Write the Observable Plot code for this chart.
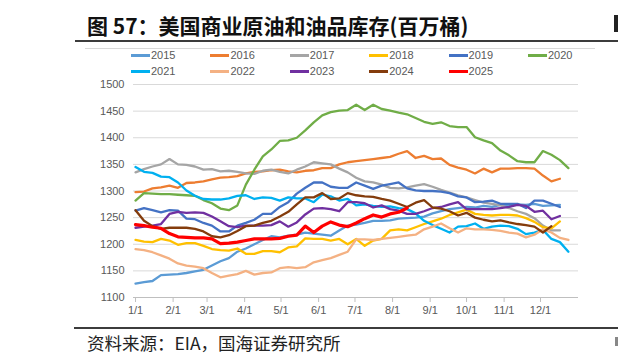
<!DOCTYPE html>
<html><head><meta charset="utf-8">
<script src="https://cdn.jsdelivr.net/npm/d3@7"></script>
<script src="https://cdn.jsdelivr.net/npm/@observablehq/plot@0.6"></script>
<style>
body{margin:0;background:#fff;width:618px;height:363px;overflow:hidden;position:relative;font-family:"Liberation Sans",Arial,sans-serif}
.abs{position:absolute}
#title{left:87px;top:11px;font-family:"Noto Sans CJK SC";font-weight:bold;font-size:21px;line-height:28px;color:#111;white-space:nowrap}
#edge1{left:614px;top:15px;width:4px;height:17px;background:#222}
#hline{left:75px;right:0;top:40px;height:2px;background:#3c3c3c}
#gline{left:85px;width:510px;top:48px;height:1px;background:#d9d9d9}
#fline{left:74px;right:0;top:327px;height:2px;background:#3c3c3c}
#foot{left:87px;top:332px;font-family:"Noto Sans CJK SC";font-size:17.5px;line-height:22px;color:#222;white-space:nowrap}
#edge2{left:615px;top:337px;width:3px;height:9px;background:#888}
.sw{position:absolute;width:19px;height:3px}
.lb{position:absolute;font-size:11px;line-height:12px;color:#595959}
#chart{left:0;top:60px}
</style></head>
<body>
<div id="title" class="abs">图 57：美国商业原油和油品库存(百万桶)</div>
<div id="edge1" class="abs"></div>
<div id="hline" class="abs"></div>
<div id="gline" class="abs"></div>
<div id="legend" class="abs" style="left:0;top:0"></div>
<div id="chart" class="abs"></div>
<div id="fline" class="abs"></div>
<div id="foot" class="abs">资料来源：EIA，国海证券研究所</div>
<div id="edge2" class="abs"></div>
<script>
const years = ["2015","2016","2017","2018","2019","2020","2021","2022","2023","2024","2025"];
const colors = ["#5B9BD5","#ED7D31","#A5A5A5","#FFC000","#4472C4","#70AD47","#00B0F0","#F4B183","#7030A0","#843C0C","#FF0000"];
const monthLabels = ["1/1","2/1","3/1","4/1","5/1","6/1","7/1","8/1","9/1","10/1","11/1","12/1"];
const yTicks = [1100,1150,1200,1250,1300,1350,1400,1450,1500];

const y2015 = [1126,1129,1131,1142,1143,1144,1146,1149,1152,1160,1168,1174,1186,1192,1200,1208,1215,1213,1216,1218,1222,1220,1218,1216,1226,1235,1237,1240,1244,1244,1245,1248,1249,1250,1252,1258,1262,1266,1268,1270,1269,1272,1270,1274,1273,1275,1274,1276,1272,1273,1274];
const y2016 = [1298,1299,1305,1307,1310,1306,1315,1316,1318,1322,1325,1326,1328,1333,1336,1337,1339,1340,1337,1335,1338,1339,1343,1343,1350,1354,1356,1358,1360,1362,1364,1370,1375,1362,1366,1360,1361,1349,1344,1340,1333,1342,1335,1342,1342,1343,1343,1342,1329,1318,1323];
const y2017 = [1335,1341,1346,1350,1360,1350,1349,1346,1340,1341,1337,1338,1336,1333,1332,1338,1340,1336,1333,1340,1346,1354,1352,1350,1342,1335,1325,1318,1316,1312,1306,1305,1307,1310,1313,1308,1302,1297,1292,1288,1283,1278,1276,1273,1268,1262,1257,1249,1235,1226,1226];
const y2018 = [1208,1205,1204,1210,1207,1199,1202,1202,1197,1191,1189,1188,1192,1182,1182,1187,1187,1185,1194,1196,1211,1210,1210,1207,1210,1200,1210,1197,1207,1210,1226,1228,1226,1232,1238,1243,1248,1255,1260,1265,1257,1255,1254,1255,1255,1254,1249,1242,1232,1230,1243];
const y2019 = [1263,1268,1264,1260,1264,1263,1248,1247,1240,1235,1224,1224,1235,1240,1246,1257,1257,1270,1279,1295,1306,1316,1316,1308,1306,1306,1316,1310,1304,1310,1313,1316,1305,1301,1300,1300,1299,1296,1290,1288,1279,1280,1282,1276,1276,1276,1268,1282,1282,1276,1270];
const y2020 = [1282,1296,1295,1294,1294,1293,1292,1291,1283,1277,1267,1264,1273,1312,1340,1365,1378,1394,1395,1400,1414,1429,1442,1448,1451,1452,1462,1452,1462,1454,1451,1447,1444,1437,1430,1426,1429,1422,1420,1420,1401,1395,1390,1376,1367,1356,1354,1354,1375,1368,1358,1343];
const y2021 = [1345,1336,1334,1327,1326,1316,1301,1291,1285,1284,1284,1286,1291,1292,1285,1288,1287,1282,1288,1286,1286,1279,1293,1290,1282,1285,1273,1275,1272,1270,1271,1268,1266,1258,1244,1236,1229,1222,1233,1234,1239,1229,1233,1235,1234,1229,1219,1222,1227,1210,1204,1186];
const y2022 = [1191,1189,1185,1179,1173,1164,1160,1158,1155,1146,1138,1141,1144,1150,1143,1146,1147,1155,1157,1155,1157,1166,1170,1174,1180,1186,1209,1209,1208,1210,1212,1214,1216,1218,1228,1233,1239,1230,1222,1230,1228,1228,1227,1225,1222,1220,1213,1218,1228,1222,1212,1208];
const y2023 = [1231,1233,1235,1238,1257,1261,1259,1260,1259,1252,1243,1234,1232,1235,1235,1235,1236,1243,1233,1241,1256,1267,1268,1266,1262,1279,1279,1277,1269,1273,1266,1263,1257,1257,1262,1268,1270,1275,1279,1266,1266,1266,1266,1268,1270,1274,1272,1261,1263,1247,1253];
const y2024 = [1264,1244,1234,1229,1231,1231,1231,1229,1224,1215,1213,1217,1225,1234,1235,1240,1244,1252,1261,1275,1288,1288,1296,1285,1286,1296,1292,1290,1289,1285,1282,1276,1270,1278,1283,1269,1267,1262,1254,1259,1250,1246,1243,1245,1241,1238,1236,1233,1222,1234];
const y2025 = [1237,1235,1232,1230,1220,1214,1213,1212,1212,1210,1201,1202,1204,1207,1210,1210,1210,1211,1215,1217,1234,1222,1234,1242,1236,1233,1240,1248,1255,1251,1257,1260,1268];

const series = [y2015,y2016,y2017,y2018,y2019,y2020,y2021,y2022,y2023,y2024,y2025];
const data = [];
series.forEach((arr, k) => arr.forEach((v, i) => data.push({year: years[k], date: new Date(Date.UTC(2021, 0, 1 + 7 * i)), value: v})));

// legend
const leg = document.getElementById("legend");
years.forEach((y, k) => {
  const row = k < 6 ? 0 : 1, col = k < 6 ? k : k - 6;
  const x = 131 + col * 79.4, cy = row === 0 ? 55 : 71;
  const sw = document.createElement("div");
  sw.className = "sw"; sw.style.left = x + "px"; sw.style.top = (cy - 1.5) + "px"; sw.style.background = colors[k];
  const lb = document.createElement("div");
  lb.className = "lb"; lb.style.left = (x + 20) + "px"; lb.style.top = (cy - 6) + "px"; lb.textContent = y;
  leg.appendChild(sw); leg.appendChild(lb);
});

const monthTicks = d3.range(12).map(m => new Date(Date.UTC(2021, m, 1)));
const chart = Plot.plot({
  width: 618, height: 265,
  marginTop: 24, marginBottom: 28, marginLeft: 133, marginRight: 40,
  style: {fontFamily: "Liberation Sans, Arial, sans-serif", fontSize: "11px", color: "#595959", background: "transparent"},
  x: {type: "utc", domain: [new Date(Date.UTC(2020, 11, 30, 8)), new Date(Date.UTC(2022, 0, 1, 8))]},
  y: {domain: [1100, 1500]},
  color: {domain: years, range: colors},
  marks: [
    Plot.gridY(yTicks.slice(1), {stroke: "#d9d9d9", strokeOpacity: 1, strokeWidth: 1}),
    Plot.ruleY([1100], {stroke: "#bfbfbf", strokeWidth: 1}),
    Plot.axisY(yTicks, {tickSize: 0, tickPadding: 9, label: null, fill: "#595959", tickFormat: d => String(d)}),
    Plot.axisX(monthTicks, {tickSize: 5, tickPadding: 4, stroke: "#bfbfbf", label: null, fill: "#595959",
      tickFormat: d => monthLabels[d.getUTCMonth()]}),
    Plot.line(data, {x: "date", y: "value", z: "year", stroke: "year",
      strokeWidth: d => d.year === "2025" ? 3.2 : 2.3, curve: "linear", strokeLinejoin: "round"})
  ]
});
document.getElementById("chart").appendChild(chart);
</script>
</body></html>
